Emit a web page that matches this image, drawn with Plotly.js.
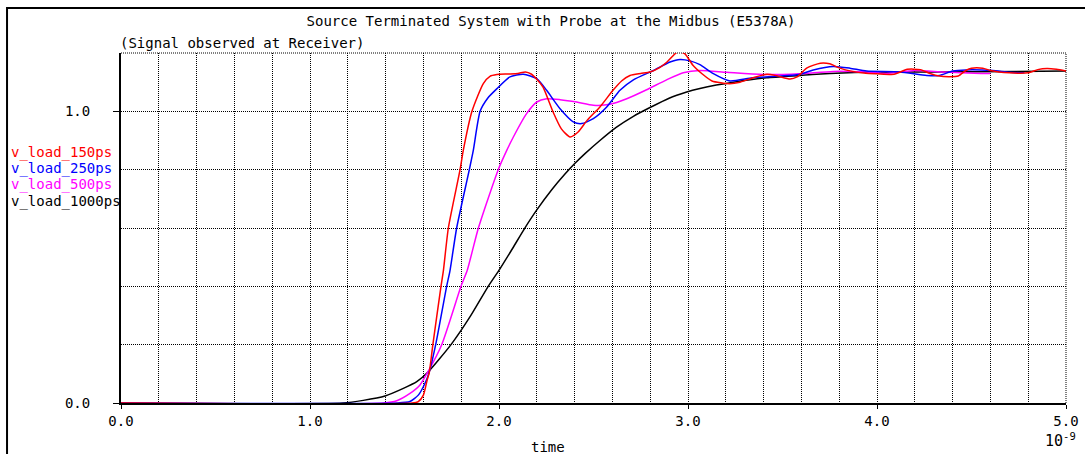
<!DOCTYPE html>
<html>
<head>
<meta charset="utf-8">
<script src="https://cdn.plot.ly/plotly-3.0.1.min.js"></script>
<style>html,body{margin:0;padding:0;background:#fff;}#chart{width:1085px;height:454px;}</style>
</head>
<body>
<div id="chart"></div>
<script>
// time in ns (axis shows x 10^-9 s)
const seriesNames = ["v_load_150ps", "v_load_250ps", "v_load_500ps", "v_load_1000ps"];
const seriesColors = ["#ff0000", "#0000ff", "#ff00ff", "#000000"];

const t150 = [0, 1.54, 1.573, 1.6, 1.62, 1.631, 1.65, 1.693, 1.706, 1.732, 1.794, 1.811, 1.857, 1.917, 1.952, 1.989, 2.05, 2.1, 2.14, 2.17, 2.2, 2.233, 2.286, 2.33, 2.376, 2.42, 2.466, 2.534, 2.603, 2.65, 2.693, 2.75, 2.799, 2.85, 2.889, 2.947, 2.984, 3.026, 3.074, 3.127, 3.22, 3.275, 3.344, 3.418, 3.47, 3.54, 3.577, 3.63, 3.70, 3.75, 3.80, 3.87, 3.94, 4.0, 4.09, 4.16, 4.23, 4.28, 4.33, 4.38, 4.43, 4.47, 4.5, 4.56, 4.6, 4.7, 4.8, 4.85, 4.9, 4.95, 5.0];
const v150 = [0, 0, 0.005, 0.027, 0.079, 0.104, 0.2, 0.4, 0.455, 0.6, 0.8, 0.866, 1.0, 1.095, 1.12, 1.126, 1.128, 1.13, 1.135, 1.128, 1.11, 1.083, 0.998, 0.94, 0.912, 0.93, 0.969, 1.015, 1.072, 1.105, 1.123, 1.13, 1.135, 1.15, 1.169, 1.205, 1.197, 1.158, 1.129, 1.104, 1.095, 1.10, 1.115, 1.127, 1.122, 1.111, 1.118, 1.149, 1.165, 1.163, 1.149, 1.137, 1.131, 1.129, 1.127, 1.144, 1.143, 1.13, 1.121, 1.119, 1.121, 1.14, 1.148, 1.148, 1.14, 1.132, 1.132, 1.143, 1.147, 1.144, 1.138];

const t250 = [0, 1.46, 1.529, 1.573, 1.608, 1.63, 1.665, 1.723, 1.741, 1.776, 1.843, 1.864, 1.90, 1.94, 1.988, 2.058, 2.129, 2.2, 2.252, 2.323, 2.393, 2.437, 2.499, 2.57, 2.64, 2.711, 2.817, 2.905, 2.958, 3.011, 3.063, 3.134, 3.222, 3.34, 3.47, 3.587, 3.663, 3.769, 3.857, 3.945, 4.12, 4.263, 4.33, 4.40, 4.47, 4.61, 4.7, 4.78];
const v250 = [0, 0, 0.005, 0.027, 0.067, 0.104, 0.2, 0.4, 0.455, 0.6, 0.8, 0.866, 1.0, 1.045, 1.077, 1.118, 1.127, 1.112, 1.072, 1.009, 0.964, 0.958, 0.975, 1.015, 1.072, 1.108, 1.14, 1.169, 1.178, 1.173, 1.16, 1.129, 1.104, 1.115, 1.12, 1.126, 1.142, 1.154, 1.148, 1.138, 1.135, 1.123, 1.123, 1.138, 1.142, 1.14, 1.134, 1.132];

const t500 = [0, 1.39, 1.459, 1.529, 1.582, 1.617, 1.697, 1.799, 1.832, 1.891, 1.996, 2.041, 2.076, 2.146, 2.2, 2.252, 2.323, 2.411, 2.499, 2.587, 2.676, 2.781, 2.887, 2.975, 3.063, 3.205, 3.416, 3.59, 3.77, 3.94, 4.05, 4.2, 4.35, 4.55, 4.6];
const v500 = [0, 0, 0.008, 0.033, 0.062, 0.099, 0.2, 0.4, 0.455, 0.6, 0.8, 0.866, 0.912, 0.992, 1.032, 1.043, 1.04, 1.032, 1.021, 1.024, 1.043, 1.074, 1.108, 1.132, 1.14, 1.134, 1.126, 1.129, 1.137, 1.135, 1.13, 1.14, 1.135, 1.13, 1.13];

const t1000 = [0, 1.175, 1.282, 1.397, 1.494, 1.565, 1.626, 1.746, 1.847, 1.943, 2.005, 2.07, 2.135, 2.2, 2.28, 2.349, 2.402, 2.455, 2.534, 2.62, 2.711, 2.799, 2.9, 2.993, 3.063, 3.15, 3.24, 3.416, 3.593, 3.68, 3.94, 4.3, 5.0];
const v1000 = [0, 0, 0.009, 0.024, 0.05, 0.073, 0.107, 0.2, 0.296, 0.4, 0.46, 0.528, 0.598, 0.662, 0.732, 0.785, 0.822, 0.855, 0.9, 0.945, 0.983, 1.013, 1.045, 1.066, 1.078, 1.09, 1.1, 1.115, 1.123, 1.127, 1.134, 1.135, 1.138];

const xTickVals = [0, 1, 2, 3, 4, 5];
const xTickText = ["0.0", "1.0", "2.0", "3.0", "4.0", "5.0"];
const yTickVals = [0, 1];
const yTickText = ["0.0", "1.0"];

const titleText = "Source Terminated System with Probe at the Midbus (E5378A)";
const subtitleText = "(Signal observed at Receiver)";
const xTitleText = "time";
const xScaleText = "10<sup>-9</sup>";

const FONT = "DejaVu Sans Mono, Liberation Mono, monospace";

const xs = [t150, t250, t500, t1000];
const ys = [v150, v250, v500, v1000];
// draw black first (bottom), red last (top) like the reference
const order = [3, 2, 1, 0];
const traces = order.map(i => ({
  x: xs[i], y: ys[i], type: "scatter", mode: "lines",
  name: seriesNames[i],
  line: {color: seriesColors[i], width: 1.5, shape: "spline", smoothing: 0.6},
  hoverinfo: "skip"
}));

const legendY = [0.717, 0.671, 0.624, 0.577];
const annotations = seriesNames.map((n, i) => ({
  text: n, xref: "paper", yref: "paper", x: -0.1185, y: legendY[i],
  xanchor: "left", yanchor: "middle", showarrow: false,
  font: {family: FONT, size: 14, color: seriesColors[i]}
}));
annotations.push({text: subtitleText, xref: "paper", yref: "paper", x: -0.0032, y: 1.0277,
  xanchor: "left", yanchor: "middle", showarrow: false, font: {family: FONT, size: 14, color: "#000"}});
annotations.push({text: xTitleText, xref: "paper", yref: "paper", x: 0.4519, y: -0.127,
  xanchor: "center", yanchor: "middle", showarrow: false, font: {family: FONT, size: 14, color: "#000"}});
annotations.push({text: xScaleText, xref: "paper", yref: "paper", x: 0.9947, y: -0.105,
  xanchor: "center", yanchor: "middle", showarrow: false, font: {family: FONT, size: 15, color: "#000"}});

const gridStyle = {showgrid: true, gridcolor: "#000", griddash: "1px,1px", gridwidth: 1};

const layout = {
  width: 1085, height: 454,
  margin: {l: 121, r: 19, t: 53, b: 51, pad: 0},
  paper_bgcolor: "#fff", plot_bgcolor: "#fff",
  showlegend: false,
  font: {family: FONT, size: 14, color: "#000"},
  title: {text: titleText, x: 551 / 1085, xanchor: "center", xref: "container",
          y: 1 - 21 / 454, yanchor: "middle", yref: "container",
          font: {family: FONT, size: 14, color: "#000"}},
  xaxis: Object.assign({
    range: [0, 5], tickmode: "array", tickvals: xTickVals, ticktext: xTickText,
    ticks: "outside", ticklen: 4, tickwidth: 1, tickcolor: "#000",
    showline: true, linecolor: "#000", linewidth: 2, zeroline: false,
    tickfont: {family: FONT, size: 14, color: "#000"},
    minor: Object.assign({dtick: 0.2, tick0: 0, ticks: ""}, gridStyle)
  }, gridStyle),
  yaxis: Object.assign({
    range: [0, 1.2], tickmode: "array", tickvals: yTickVals, ticktext: yTickText,
    ticks: "outside", ticklen: 6, tickwidth: 1, tickcolor: "#000",
    showline: true, linecolor: "#000", linewidth: 2, zeroline: false,
    ticklabelstandoff: 20,
    tickfont: {family: FONT, size: 14, color: "#000"},
    minor: Object.assign({dtick: 0.2, tick0: 0, ticks: ""}, gridStyle)
  }, gridStyle),
  shapes: [
    {type: "path", xref: "paper", yref: "paper",
     path: "M -0.1206 -0.2 L -0.1206 1.1286 L 1.03 1.1286",
     line: {color: "#000", width: 2}, layer: "above"},
    {type: "line", xref: "paper", yref: "paper", x0: 0, x1: 1, y0: 1, y1: 1,
     line: {color: "#000", width: 1, dash: "1px,1px"}, layer: "below"},
    {type: "line", xref: "paper", yref: "paper", x0: 1, x1: 1, y0: 0, y1: 1,
     line: {color: "#000", width: 1, dash: "1px,1px"}, layer: "below"}
  ],
  annotations: annotations
};

Plotly.newPlot("chart", traces, layout, {staticPlot: true, displayModeBar: false});
</script>
</body>
</html>
